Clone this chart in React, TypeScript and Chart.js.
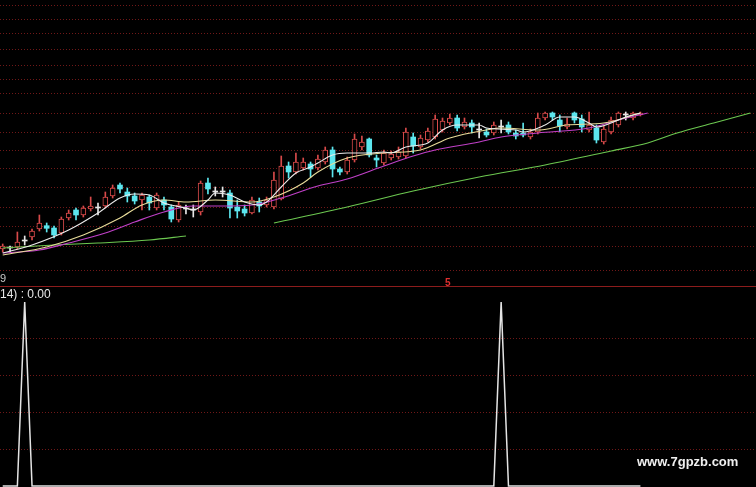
import React, { useEffect, useRef } from "react";
import { Chart, registerables } from "chart.js";
Chart.register(...registerables);

// ---- candle data (index 0..87) ----
const openP = [38,39,40,46,50,58,61.3,59,54,69,77,72,78,79,81,91,102,95,91,87,90,79,87,80,67,78,77,75,104,95,95,94,80,78,74,85,82,80,88,121,115,119,123,119,125,137,118,115,127,140,148,129,124,129,130,131,150,140,147,150,157,164,169,160,164,157,155,154,160,162,154,154,150,155,169,174,167,160,174,168,157,159,145,155,162,172,169,172];
const closeP = [41,39,45,46,56,64,58.7,52,68,74,72,79,81,79,90,99,98,91,86,92,84,92,82,68,82,78,77,104,98,95,95,79,76,74,87,81,87,107,121,115,125,125,118,128,137,118,115,127,148,145,132,127,134,133,135,155,141,149,156,168,166,169,159,165,160,157,152,162,160,155,151,152,155,169,174,170,161,163,167,160,162,147,158,167,174,172,174,174];
const highP = [43,41,55,51,58,72,64,61,70,77,79,81,90,84,95,102,104,99,94,94,92,94,90,82,85,82,82,106,109,100,100,97,87,82,90,89,90,115,131,125,134,129,125,132,140,140,120,130,153,151,149,132,137,136,140,159,154,152,159,172,169,173,172,169,167,164,158,165,167,165,157,164,158,174,175,175,172,169,175,172,175,162,161,170,175,175,175,175];
const lowP = [35,35,38,42,47,56,55,49,52,67,67,70,76,72,79,89,94,85,83,77,77,77,77,65,65,73,70,72,93,91,90,69,69,71,73,75,80,78,87,109,113,117,110,117,123,110,112,113,125,137,130,120,122,127,128,129,134,138,145,148,155,162,156,158,154,149,150,152,154,153,148,150,148,153,167,167,155,158,164,155,155,144,143,153,160,167,167,171];

// ---- moving average lines: [index, value] ----
const maWhite: [number, number | null][] = [[0,34],[4,42],[9,57],[13,74],[16,89],[18,93],[20,92],[22,84],[25,79],[26,77],[28,87],[29,94],[31,92],[33,85],[35,82],[36,85],[38,100],[40,114],[42,120],[43,124],[45,132],[47,134],[50,134],[52,135],[53,134],[55,140],[58,144],[60,157],[62,162],[65,162],[66,159],[70,157],[71,155],[74,162],[76,170],[78,170],[80,164],[81,160],[83,164],[85,170],[87,174]];
const maYellow: [number, number | null][] = [[0,32],[6,40],[11,52],[16,69],[19,82],[22,87],[25,85],[29,87],[34,85],[37,90],[41,104],[43,115],[47,129],[52,134],[57,137],[61,149],[66,157],[68,159],[73,157],[77,162],[82,164],[87,174]];
const maPurple: [number, number | null][] = [[0,34],[5,37],[9,44],[14,54],[18,65],[22,75],[26,81],[30,81],[34,82],[38,89],[43,101],[47,108],[52,121],[56,131],[59,137],[65,145],[68,150],[73,154],[80,159],[84,167],[88,174]];
const maGreen: [number, number | null][] = [[0,39],[7,42],[13,44],[20,47],[25,51],[30,null],[37,64],[47,80],[56,96],[65,110],[74,122],[83,136],[88,144],[92,154],[97,164],[102,174]];

// ---- lower indicator ----
const signal = [0,0,0,1,0,0,0,0,0,0,0,0,0,0,0,0,0,0,0,0,0,0,0,0,0,0,0,0,0,0,0,0,0,0,0,0,0,0,0,0,0,0,0,0,0,0,0,0,0,0,0,0,0,0,0,0,0,0,0,0,0,0,0,0,0,0,0,0,1,0,0,0,0,0,0,0,0,0,0,0,0,0,0,0,0,0,0,0];

// ---- grid tick values ----
const topGrid = [282, 268, 254, 238, 222, 207, 193, 174, 155, 136, 118, 99, 80, 61, 41, 17];
const bottomGrid = [0.2, 0.4, 0.6, 0.8];

const X_MIN = -0.37;
const X_MAX = 102.77;

const RED = "#d84a4a";
const CYAN = "#5ce6ee";
const WHITE = "#e6e6e6";
const GRID = "rgba(150,32,32,0.75)";

function lineDs(pts: [number, number | null][], color: string) {
  return {
    type: "line" as const,
    data: pts.map(([x, y]) => ({ x, y })),
    borderColor: color,
    borderWidth: 1.1,
    pointRadius: 0,
    pointHitRadius: 0,
    cubicInterpolationMode: "monotone" as const,
    spanGaps: false,
    order: 0,
  };
}

function yAxis(min: number, max: number, grid: number[]) {
  return {
    min,
    max,
    display: true,
    afterFit: (s: any) => { s.width = 0; },
    afterBuildTicks: (s: any) => { s.ticks = grid.map((v) => ({ value: v })); },
    ticks: { display: false },
    grid: { color: GRID, drawTicks: false, lineWidth: 1 },
    border: { display: false, dash: [1, 2] },
  };
}

export default function App() {
  const topRef = useRef<HTMLCanvasElement>(null);
  const botRef = useRef<HTMLCanvasElement>(null);

  useEffect(() => {
    const idx = openP.map((_, i) => i);
    const kind = idx.map((i) => (closeP[i] > openP[i] ? "up" : closeP[i] < openP[i] ? "down" : "flat"));
    const col = kind.map((k) => (k === "up" ? RED : k === "down" ? CYAN : WHITE));

    const top = new Chart(topRef.current!, {
      type: "bar",
      data: {
        datasets: [
          lineDs(maWhite, "#ececec"),
          lineDs(maYellow, "#e8dc9a"),
          lineDs(maPurple, "#c040c8"),
          lineDs(maGreen, "#6cc850"),
          {
            type: "bar",
            data: idx.map((i) => ({ x: i, y: [openP[i], closeP[i]] })),
            backgroundColor: kind.map((k, i) => (k === "up" ? "#000000" : col[i])),
            borderColor: col,
            borderWidth: kind.map((k) => (k === "up" ? 1 : 0)),
            borderSkipped: false,
            barThickness: 5,
            minBarLength: 1,
            grouped: false,
            order: 2,
          } as any,
          {
            type: "bar",
            data: idx.map((i) => ({ x: i, y: [lowP[i], highP[i]] })),
            backgroundColor: col,
            barThickness: 1,
            grouped: false,
            order: 3,
          } as any,
        ],
      },
      options: {
        animation: false,
        responsive: true,
        maintainAspectRatio: false,
        events: [],
        layout: { padding: 0 },
        plugins: { legend: { display: false }, tooltip: { enabled: false } },
        scales: {
          x: { type: "linear", min: X_MIN, max: X_MAX, display: false, offset: false },
          y: yAxis(1, 287, topGrid) as any,
        },
      },
    });

    const bot = new Chart(botRef.current!, {
      type: "line",
      data: {
        datasets: [
          {
            data: signal.map((v, i) => ({ x: i, y: v })),
            borderColor: "#e4e4e4",
            borderWidth: 1.5,
            pointRadius: 0,
            tension: 0,
          },
        ],
      },
      options: {
        animation: false,
        responsive: true,
        maintainAspectRatio: false,
        events: [],
        layout: { padding: 0 },
        plugins: { legend: { display: false }, tooltip: { enabled: false } },
        scales: {
          x: { type: "linear", min: X_MIN, max: X_MAX, display: false, offset: false },
          y: yAxis(-0.005, 1.082, bottomGrid) as any,
        },
      },
    });

    return () => {
      top.destroy();
      bot.destroy();
    };
  }, []);

  const txt: React.CSSProperties = {
    position: "absolute",
    fontFamily: "'Liberation Sans', Arial, sans-serif",
    fontSize: 11,
    lineHeight: "12px",
    whiteSpace: "nowrap",
  };

  return (
    <div style={{ position: "fixed", left: 0, top: 0, width: 756, height: 487, background: "#000", overflow: "hidden" }}>
      <div style={{ position: "absolute", left: 0, top: 0, width: 756, height: 286 }}>
        <canvas ref={topRef} />
      </div>
      <div style={{ position: "absolute", left: 0, top: 286, width: 756, height: 200, borderTop: "1px solid #8c1c1c" }}>
        <canvas ref={botRef} />
      </div>
      <span style={{ ...txt, left: 0, top: 272, color: "#c8c8c8" }}>9</span>
      <span style={{ ...txt, left: 0, top: 288, color: "#e8e8e8", fontSize: 12 }}>14) : 0.00</span>
      <span style={{ ...txt, left: 445, top: 277, color: "#e03030", fontSize: 10, fontWeight: "bold" }}>5</span>
      <span style={{ ...txt, left: 637, top: 456, color: "#f0f0f0", fontSize: 13, fontWeight: "bold" }}>www.7gpzb.com</span>
    </div>
  );
}
